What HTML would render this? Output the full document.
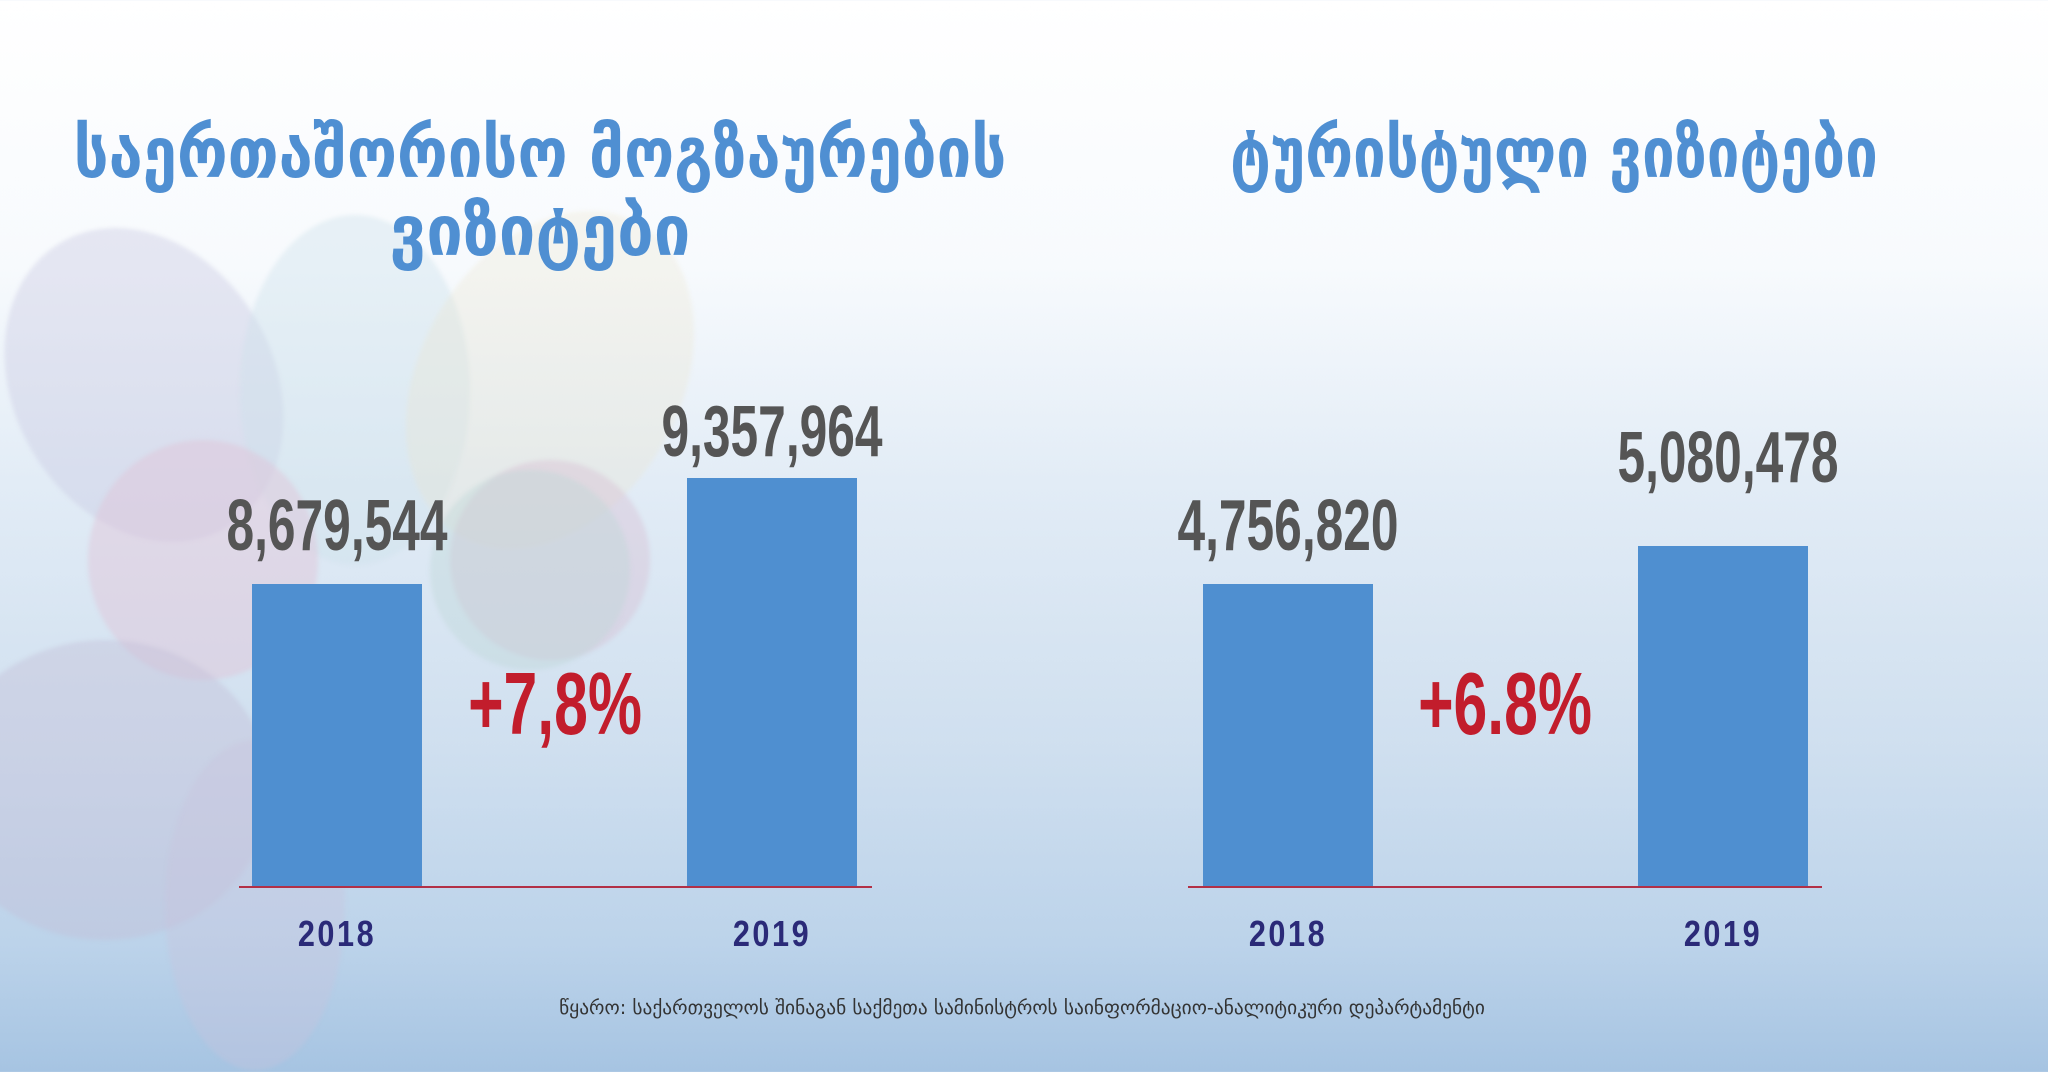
<!DOCTYPE html>
<html><head><meta charset="utf-8"><style>
html,body{margin:0;padding:0}
body{width:2048px;height:1072px;position:relative;overflow:hidden;
background:linear-gradient(180deg,#ffffff 0%,#f7fafd 25%,#e2ecf6 45%,#cfdfef 70%,#bcd3ea 88%,#a6c4e2 100%);
font-family:"Liberation Sans","DejaVu Sans",sans-serif}
.c{position:absolute;border-radius:50%;filter:blur(2px)}
.t{position:absolute;white-space:nowrap;text-align:center;transform:translateX(-50%) scaleX(0.69);transform-origin:center}
.title{color:#4f8fd2;font-weight:bold;font-family:"DejaVu Sans","Liberation Sans",sans-serif;font-size:70px;line-height:1}
.v{color:#555;font-weight:bold;font-size:72px;line-height:1}
.p{color:#c21d2c;font-weight:bold;font-size:88px;line-height:1}
.y{color:#2b2a78;font-weight:bold;font-size:36px;line-height:1;letter-spacing:3px;transform:translateX(-50%) scaleX(0.85)}
.bar{position:absolute;background:#4f8fd0}
.base{position:absolute;height:2px;background:#b23046}
</style></head><body>
<div class="c" style="left:14px;top:220px;width:260px;height:330px;background:rgba(200,200,225,0.4);transform:rotate(-30deg)"></div>
<div class="c" style="left:240px;top:215px;width:230px;height:350px;background:rgba(205,225,235,0.4)"></div>
<div class="c" style="left:420px;top:200px;width:260px;height:360px;background:rgba(235,230,205,0.3);transform:rotate(30deg)"></div>
<div class="c" style="left:88px;top:440px;width:230px;height:240px;background:rgba(225,195,215,0.45)"></div>
<div class="c" style="left:450px;top:460px;width:200px;height:200px;background:rgba(215,190,210,0.4)"></div>
<div class="c" style="left:430px;top:470px;width:200px;height:200px;background:rgba(190,215,215,0.4)"></div>
<div class="c" style="left:-60px;top:640px;width:330px;height:300px;background:rgba(195,190,215,0.4)"></div>
<div class="c" style="left:165px;top:740px;width:180px;height:330px;background:rgba(200,195,220,0.35)"></div>

<div class="t title" style="left:540px;top:118px;transform:translateX(-50%) scaleX(0.88)">საერთაშორისო მოგზაურების</div>
<div class="t title" style="left:540px;top:196px;transform:translateX(-50%) scaleX(0.93)">ვიზიტები</div>
<div class="t title" style="left:1554px;top:118px;transform:translateX(-50%) scaleX(0.83)">ტურისტული ვიზიტები</div>

<div class="bar" style="left:252px;top:584px;width:170px;height:303px"></div>
<div class="bar" style="left:687px;top:478px;width:170px;height:409px"></div>
<div class="bar" style="left:1203px;top:584px;width:170px;height:303px"></div>
<div class="bar" style="left:1638px;top:546px;width:170px;height:341px"></div>
<div class="base" style="left:239px;top:886px;width:633px"></div>
<div class="base" style="left:1188px;top:886px;width:634px"></div>

<div class="t v" style="left:337px;top:490px">8,679,544</div>
<div class="t v" style="left:772px;top:396px">9,357,964</div>
<div class="t v" style="left:1288px;top:490px">4,756,820</div>
<div class="t v" style="left:1728px;top:422px">5,080,478</div>

<div class="t p" style="left:555px;top:660px">+7,8%</div>
<div class="t p" style="left:1505px;top:660px">+6.8%</div>

<div class="t y" style="left:337px;top:916px">2018</div>
<div class="t y" style="left:772px;top:916px">2019</div>
<div class="t y" style="left:1288px;top:916px">2018</div>
<div class="t y" style="left:1723px;top:916px">2019</div>

<div style="position:absolute;left:0;width:2048px;top:997px;text-align:center;color:#333;font-size:19px;font-family:'DejaVu Sans',sans-serif;transform:translateX(-2px) scaleX(1.02)">წყარო: საქართველოს შინაგან საქმეთა სამინისტროს საინფორმაციო-ანალიტიკური დეპარტამენტი</div>
</body></html>
